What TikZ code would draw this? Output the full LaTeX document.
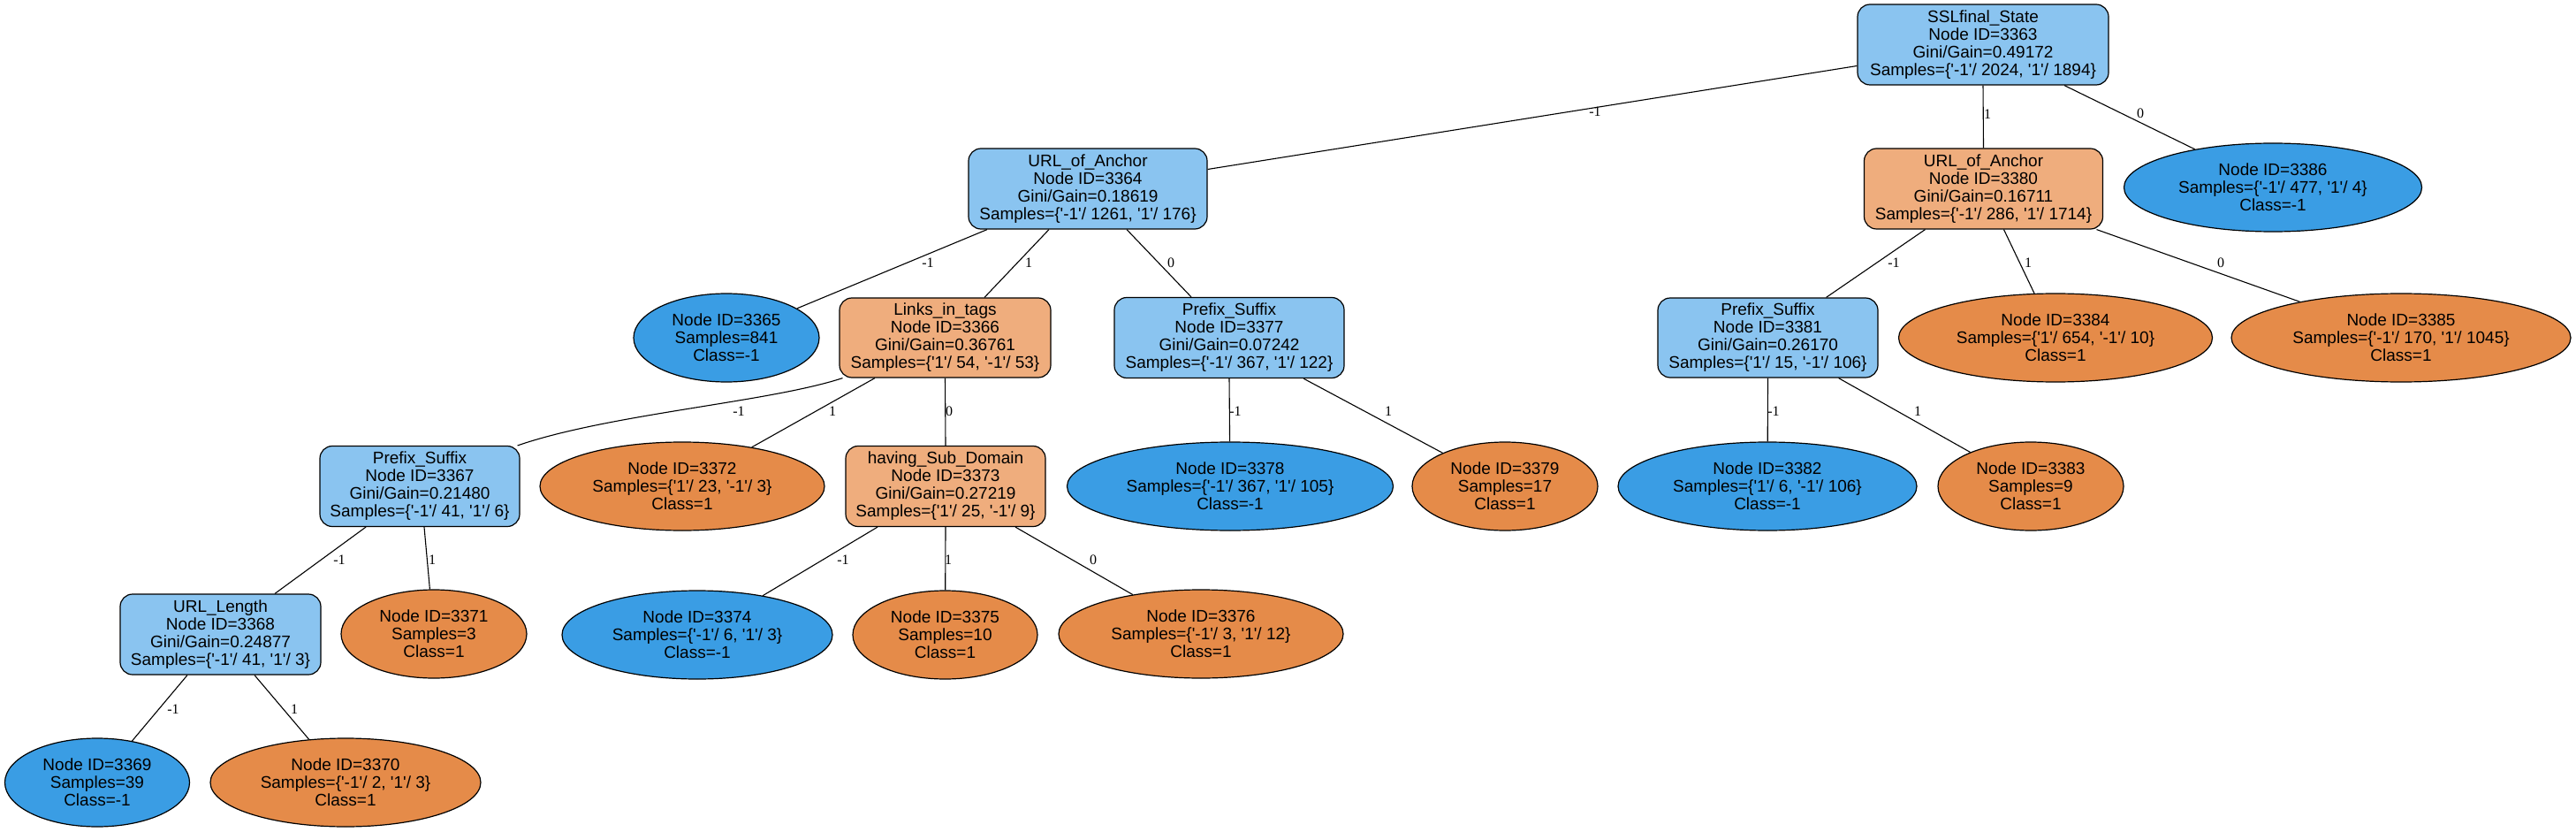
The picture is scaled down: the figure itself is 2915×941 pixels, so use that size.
\documentclass[tikz,border=0pt]{standalone}
\usepackage{fontspec}
\newfontfamily\nodefont{Liberation Sans}
\newfontfamily\lblfont{Liberation Serif}
\usetikzlibrary{shapes.geometric}
\definecolor{boxblue}{RGB}{138,196,240}
\definecolor{boxorange}{RGB}{239,173,125}
\definecolor{ellblue}{RGB}{58,157,228}
\definecolor{ellorange}{RGB}{229,139,73}
\newcommand\Q{\textquotesingle}
\begin{document}
\begin{tikzpicture}[x=1pt,y=-1pt,
  tbox/.style={draw, line width=1.2pt, rounded corners=14pt, minimum height=91pt, align=center, inner sep=0pt, font=\nodefont\fontsize{19}{20}\selectfont},
  leaf/.style={draw, ellipse, line width=1.2pt, minimum height=100pt, inner sep=0pt, align=center, font=\nodefont\fontsize{19}{20}\selectfont},
  lbl/.style={font=\lblfont\fontsize{16}{16}\selectfont, inner sep=0pt},
  edge/.style={line width=1.1pt}]
\useasboundingbox (0,0) rectangle (2915,941);
% decision boxes
\node[tbox, fill=boxblue, minimum width=284pt] (root) at (2244,50.5) {SSLfinal\_State\\Node ID=3363\\Gini/Gain=0.49172\\Samples=\{\Q-1\Q/ 2024, \Q1\Q/ 1894\}};
\node[tbox, fill=boxblue, minimum width=270pt] (n3364) at (1231,213.5) {URL\_of\_Anchor\\Node ID=3364\\Gini/Gain=0.18619\\Samples=\{\Q-1\Q/ 1261, \Q1\Q/ 176\}};
\node[tbox, fill=boxorange, minimum width=270pt] (n3380) at (2244.5,213.5) {URL\_of\_Anchor\\Node ID=3380\\Gini/Gain=0.16711\\Samples=\{\Q-1\Q/ 286, \Q1\Q/ 1714\}};
\node[tbox, fill=boxorange, minimum width=239pt, minimum height=90pt] (n3366) at (1069.5,382) {Links\_in\_tags\\Node ID=3366\\Gini/Gain=0.36761\\Samples=\{\Q1\Q/ 54, \Q-1\Q/ 53\}};
\node[tbox, fill=boxblue, minimum width=260pt] (n3377) at (1391,382) {Prefix\_Suffix\\Node ID=3377\\Gini/Gain=0.07242\\Samples=\{\Q-1\Q/ 367, \Q1\Q/ 122\}};
\node[tbox, fill=boxblue, minimum width=249pt, minimum height=90pt] (n3381) at (2000.5,382) {Prefix\_Suffix\\Node ID=3381\\Gini/Gain=0.26170\\Samples=\{\Q1\Q/ 15, \Q-1\Q/ 106\}};
\node[tbox, fill=boxblue, minimum width=226pt] (n3367) at (475,550) {Prefix\_Suffix\\Node ID=3367\\Gini/Gain=0.21480\\Samples=\{\Q-1\Q/ 41, \Q1\Q/ 6\}};
\node[tbox, fill=boxorange, minimum width=226pt] (n3373) at (1070,550) {having\_Sub\_Domain\\Node ID=3373\\Gini/Gain=0.27219\\Samples=\{\Q1\Q/ 25, \Q-1\Q/ 9\}};
\node[tbox, fill=boxblue, minimum width=227pt] (n3368) at (249.5,717.5) {URL\_Length\\Node ID=3368\\Gini/Gain=0.24877\\Samples=\{\Q-1\Q/ 41, \Q1\Q/ 3\}};
% leaves
\node[leaf, fill=ellblue, minimum width=337pt] (n3386) at (2572,212) {Node ID=3386\\Samples=\{\Q-1\Q/ 477, \Q1\Q/ 4\}\\Class=-1};
\node[leaf, fill=ellblue, minimum width=210pt] (n3365) at (822,382) {Node ID=3365\\Samples=841\\Class=-1};
\node[leaf, fill=ellorange, minimum width=355pt] (n3384) at (2326,382) {Node ID=3384\\Samples=\{\Q1\Q/ 654, \Q-1\Q/ 10\}\\Class=1};
\node[leaf, fill=ellorange, minimum width=384pt] (n3385) at (2717,382) {Node ID=3385\\Samples=\{\Q-1\Q/ 170, \Q1\Q/ 1045\}\\Class=1};
\node[leaf, fill=ellorange, minimum width=322pt] (n3372) at (772,550) {Node ID=3372\\Samples=\{\Q1\Q/ 23, \Q-1\Q/ 3\}\\Class=1};
\node[leaf, fill=ellblue, minimum width=369pt] (n3378) at (1392,550) {Node ID=3378\\Samples=\{\Q-1\Q/ 367, \Q1\Q/ 105\}\\Class=-1};
\node[leaf, fill=ellorange, minimum width=210pt] (n3379) at (1703,550) {Node ID=3379\\Samples=17\\Class=1};
\node[leaf, fill=ellblue, minimum width=338pt] (n3382) at (2000,550) {Node ID=3382\\Samples=\{\Q1\Q/ 6, \Q-1\Q/ 106\}\\Class=-1};
\node[leaf, fill=ellorange, minimum width=210pt] (n3383) at (2298,550) {Node ID=3383\\Samples=9\\Class=1};
\node[leaf, fill=ellorange, minimum width=210pt] (n3371) at (491,717) {Node ID=3371\\Samples=3\\Class=1};
\node[leaf, fill=ellblue, minimum width=306pt] (n3374) at (789,718) {Node ID=3374\\Samples=\{\Q-1\Q/ 6, \Q1\Q/ 3\}\\Class=-1};
\node[leaf, fill=ellorange, minimum width=209pt] (n3375) at (1069.5,718) {Node ID=3375\\Samples=10\\Class=1};
\node[leaf, fill=ellorange, minimum width=322pt] (n3376) at (1359,717) {Node ID=3376\\Samples=\{\Q-1\Q/ 3, \Q1\Q/ 12\}\\Class=1};
\node[leaf, fill=ellblue, minimum width=209pt] (n3369) at (110,885) {Node ID=3369\\Samples=39\\Class=-1};
\node[leaf, fill=ellorange, minimum width=306pt] (n3370) at (391,885) {Node ID=3370\\Samples=\{\Q-1\Q/ 2, \Q1\Q/ 3\}\\Class=1};
% edges
\draw[edge] ([yshift=-24pt]root.west) -- ([yshift=22pt]n3364.east);
\draw[edge] (root.south) -- (n3380.north);
\draw[edge] ([xshift=92pt]root.south) -- (n3386);
\draw[edge] ([xshift=-114pt]n3364.south) -- (n3365);
\draw[edge] ([xshift=-44pt]n3364.south) -- ([xshift=44.5pt]n3366.north);
\draw[edge] ([xshift=44pt]n3364.south) -- ([xshift=-43pt]n3377.north);
\draw[edge] ([xshift=-116pt]n3366.south) .. controls (870,455) and (690,468) .. ([xshift=-3pt]n3367.north east);
\draw[edge] ([xshift=-79.5pt]n3366.south) -- (n3372);
\draw[edge] (n3366.south) -- (n3373.north);
\draw[edge] (n3377.south) -- (n3378);
\draw[edge] ([xshift=84pt]n3377.south) -- (n3379);
\draw[edge] ([xshift=-66pt]n3380.south) -- ([xshift=66pt]n3381.north);
\draw[edge] ([xshift=23pt]n3380.south) -- (n3384);
\draw[edge] ([xshift=128pt]n3380.south) -- (n3385);
\draw[edge] (n3381.south) -- (n3382);
\draw[edge] ([xshift=80pt]n3381.south) -- (n3383);
\draw[edge] ([xshift=-61pt]n3367.south) -- ([xshift=61.5pt]n3368.north);
\draw[edge] ([xshift=5pt]n3367.south) -- (n3371);
\draw[edge] ([xshift=-37.5pt]n3368.south) -- (n3369);
\draw[edge] ([xshift=38.5pt]n3368.south) -- (n3370);
\draw[edge] ([xshift=-77pt]n3373.south) -- (n3374);
\draw[edge] (n3373.south) -- (n3375);
\draw[edge] ([xshift=79pt]n3373.south) -- (n3376);
% edge labels
\node[lbl] (l1) at (1805,126) {-1};
\node[lbl] (l2) at (2249,129) {1};
\node[lbl] (l3) at (2422,128) {0};
\node[lbl] (l4) at (1050,297) {-1};
\node[lbl] (l5) at (1164,297) {1};
\node[lbl] (l6) at (1325,297) {0};
\node[lbl] (l7) at (836,465) {-1};
\node[lbl] (l8) at (942,465) {1};
\node[lbl] (l9) at (1074,465) {0};
\node[lbl] (l10) at (1398,465) {-1};
\node[lbl] (l11) at (1571,465) {1};
\node[lbl] (l12) at (2143,297) {-1};
\node[lbl] (l13) at (2295,297) {1};
\node[lbl] (l14) at (2513,297) {0};
\node[lbl] (l15) at (2007,465) {-1};
\node[lbl] (l16) at (2170,465) {1};
\node[lbl] (l17) at (384,633) {-1};
\node[lbl] (l18) at (489,633) {1};
\node[lbl] (l19) at (954,633) {-1};
\node[lbl] (l20) at (1073,633) {1};
\node[lbl] (l21) at (1237,633) {0};
\node[lbl] (l22) at (196,802) {-1};
\node[lbl] (l23) at (333,802) {1};
\end{tikzpicture}
\end{document}
